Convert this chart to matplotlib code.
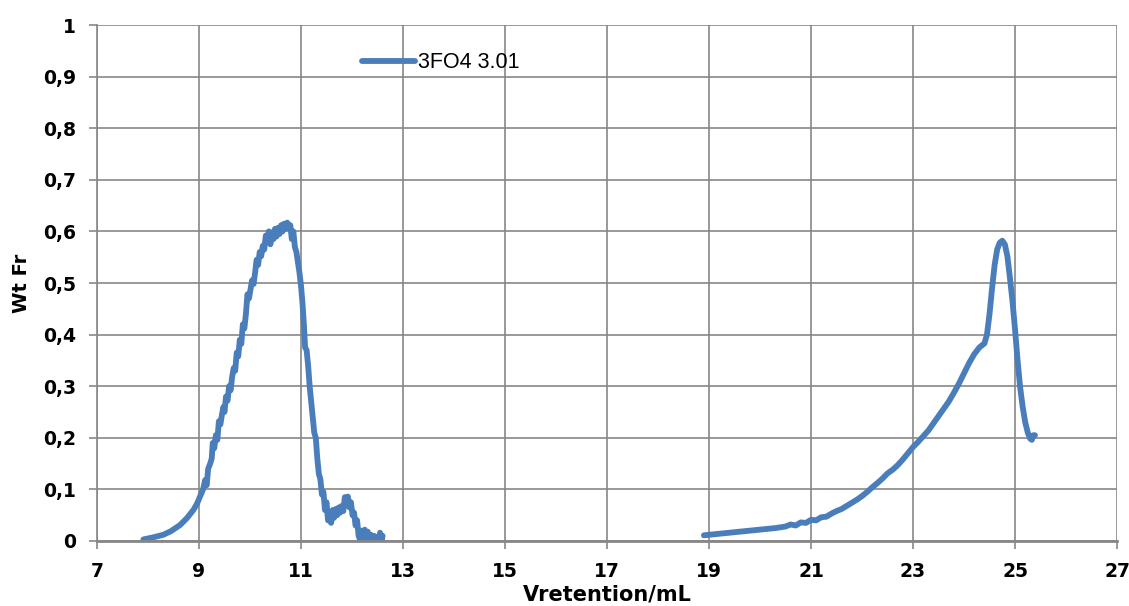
import matplotlib
matplotlib.use("Agg")
import matplotlib.pyplot as plt
from matplotlib.ticker import FuncFormatter

# ─────────── Datos ───────────
SERIES_NAME = "3FO4 3.01"

peak1_x = [7.91, 8.10, 8.30, 8.45, 8.63, 8.76, 8.89, 8.96, 9.02, 9.08,
           9.12, 9.15, 9.18, 9.22, 9.25, 9.27, 9.30, 9.33, 9.36, 9.39,
           9.42, 9.45, 9.48, 9.50, 9.53, 9.56, 9.59, 9.62, 9.65, 9.68,
           9.71, 9.74, 9.77, 9.80, 9.83, 9.86, 9.89, 9.92, 9.95, 9.98,
           10.01, 10.04, 10.07, 10.10, 10.13, 10.16, 10.19, 10.22, 10.25, 10.28,
           10.31, 10.34, 10.37, 10.40, 10.43, 10.46, 10.49, 10.52, 10.55, 10.58,
           10.61, 10.64, 10.67, 10.70, 10.73, 10.76, 10.79, 10.82, 10.85, 10.88,
           10.91, 10.94, 10.97, 11.00, 11.03, 11.06, 11.08, 11.11, 11.14, 11.17,
           11.20, 11.23, 11.26, 11.29, 11.32, 11.35, 11.38, 11.41, 11.44, 11.47,
           11.50, 11.53, 11.56, 11.59, 11.62, 11.65, 11.68, 11.71, 11.74, 11.77,
           11.80, 11.83, 11.86, 11.89, 11.92, 11.95, 11.98, 12.01, 12.04, 12.07,
           12.10, 12.13, 12.16, 12.19, 12.22, 12.25, 12.28, 12.31, 12.34, 12.37,
           12.40, 12.43, 12.46, 12.49, 12.52, 12.55, 12.58, 12.60]
peak1_y = [0.003, 0.007, 0.012, 0.019, 0.031, 0.044, 0.060, 0.072, 0.086, 0.100,
           0.118, 0.108, 0.140, 0.150, 0.160, 0.190, 0.180, 0.205, 0.196, 0.232,
           0.226, 0.245, 0.260, 0.250, 0.280, 0.272, 0.300, 0.292, 0.318, 0.335,
           0.330, 0.365, 0.358, 0.390, 0.382, 0.420, 0.412, 0.440, 0.478, 0.470,
           0.488, 0.505, 0.498, 0.520, 0.545, 0.535, 0.560, 0.552, 0.572, 0.565,
           0.592, 0.580, 0.600, 0.575, 0.598, 0.585, 0.605, 0.590, 0.607, 0.595,
           0.612, 0.600, 0.615, 0.605, 0.617, 0.610, 0.612, 0.585, 0.600, 0.570,
           0.560, 0.540, 0.520, 0.495, 0.460, 0.415, 0.375, 0.370, 0.340, 0.300,
           0.270, 0.240, 0.210, 0.200, 0.160, 0.130, 0.120, 0.090, 0.095, 0.060,
           0.075, 0.040, 0.055, 0.035, 0.060, 0.045, 0.062, 0.050, 0.065, 0.055,
           0.068, 0.058, 0.085, 0.070, 0.086, 0.065, 0.075, 0.050, 0.055, 0.030,
           0.040, 0.010, 0.002, 0.020, 0.005, 0.022, 0.002, 0.018, 0.000, 0.012,
           0.001, 0.010, 0.000, 0.008, 0.000, 0.016, 0.000, 0.010]

peak2_x = [18.90, 19.20, 19.60, 20.00, 20.30, 20.50, 20.60, 20.70, 20.80, 20.90,
           21.00, 21.10, 21.20, 21.30, 21.40, 21.50, 21.60, 21.70, 21.80, 21.90,
           22.00, 22.10, 22.20, 22.30, 22.40, 22.50, 22.60, 22.70, 22.80, 22.90,
           23.00, 23.10, 23.20, 23.30, 23.40, 23.50, 23.60, 23.70, 23.80, 23.90,
           24.00, 24.10, 24.20, 24.30, 24.40, 24.45, 24.50, 24.55, 24.60, 24.65,
           24.70, 24.75, 24.80, 24.85, 24.90, 24.95, 25.00, 25.05, 25.10, 25.15,
           25.20, 25.25, 25.30, 25.33, 25.36, 25.39]
peak2_y = [0.011, 0.014, 0.018, 0.022, 0.025, 0.028, 0.032, 0.030, 0.036, 0.035,
           0.041, 0.040, 0.046, 0.047, 0.053, 0.058, 0.062, 0.068, 0.074, 0.080,
           0.087, 0.095, 0.104, 0.112, 0.121, 0.131, 0.138, 0.147, 0.158, 0.170,
           0.182, 0.192, 0.203, 0.214, 0.228, 0.242, 0.256, 0.270, 0.287, 0.305,
           0.325, 0.345, 0.362, 0.375, 0.383, 0.400, 0.440, 0.490, 0.535, 0.565,
           0.578, 0.582, 0.575, 0.552, 0.510, 0.465, 0.410, 0.350, 0.298, 0.260,
           0.230, 0.210, 0.198, 0.196, 0.205, 0.205]

x_ticks = [7, 9, 11, 13, 15, 17, 19, 21, 23, 25, 27]
y_ticks = [0.0, 0.1, 0.2, 0.3, 0.4, 0.5, 0.6, 0.7, 0.8, 0.9, 1.0]

# ─────────── Estilo ───────────
plt.rcParams['font.family'] = ['DejaVu Sans']
LINE = "#4A7EBB"
GRID = "#878787"

fig = plt.figure(figsize=(11.29, 6.06), dpi=100)
ax = fig.add_axes([0.0859, 0.1073, 0.9035, 0.8514])

# las dos zonas van como un único trazo con un hueco
xs = peak1_x + [float("nan")] + peak2_x
ys = peak1_y + [float("nan")] + peak2_y
ax.plot(xs, ys, color=LINE, lw=4.2, solid_capstyle="round", label=SERIES_NAME)

ax.set_xlim(7, 27)
ax.set_ylim(0, 1)
ax.set_xticks(x_ticks)
ax.set_yticks(y_ticks)
ax.yaxis.set_major_formatter(FuncFormatter(
    lambda v, p: "0" if v == 0 else ("1" if v == 1 else f"{v:.1f}".replace(".", ","))))

ax.grid(True, color=GRID, lw=1.2)
ax.set_axisbelow(True)
for s in ("top", "right"):
    ax.spines[s].set_visible(False)
ax.spines["left"].set_color(GRID)
ax.spines["left"].set_linewidth(1.2)
ax.spines["bottom"].set_color(GRID)
ax.spines["bottom"].set_linewidth(2)
ax.tick_params(axis="both", direction="out", length=6, width=1.2, color=GRID,
               labelsize=13.5)
ax.tick_params(axis="x", pad=9)
ax.tick_params(axis="y", pad=9)
for lab in ax.get_xticklabels() + ax.get_yticklabels():
    lab.set_fontweight("bold")

ax.set_xlabel("Vretention/mL", fontsize=15, fontweight="bold", labelpad=3)
ax.set_ylabel("Wt Fr", fontsize=14, fontweight="bold", labelpad=9)

leg = ax.legend(loc="upper left", bbox_to_anchor=(0.2598, 0.947), frameon=False,
                borderaxespad=0, borderpad=0, handlelength=2.45, handletextpad=0.15,
                prop={"family": "Liberation Sans", "size": 15.5})

fig.savefig("out.png", dpi=100)
